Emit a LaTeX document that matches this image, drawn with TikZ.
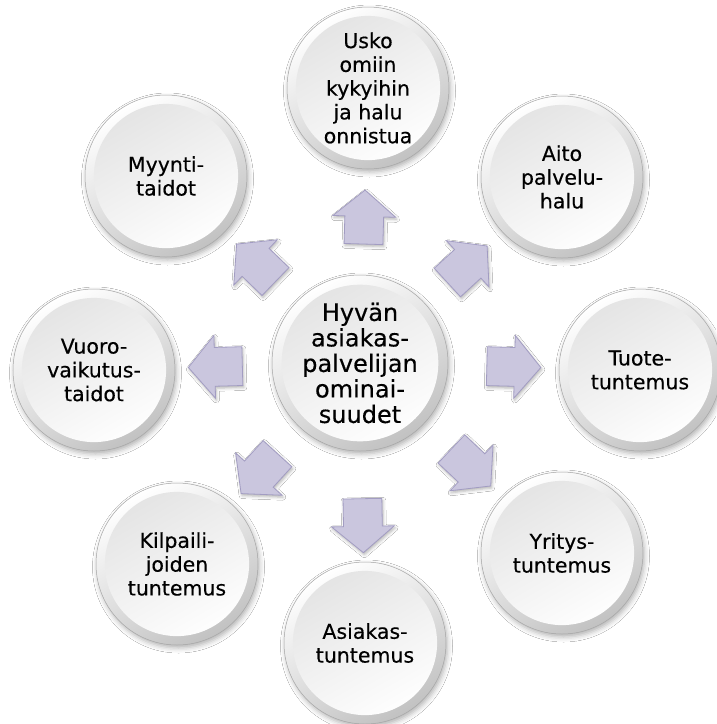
\documentclass[tikz,border=0pt]{standalone}
\usepackage{fontspec}
\setmainfont{DejaVu Sans}[FakeBold=0.35]
\usetikzlibrary{shapes.arrows,shadows.blur}
\definecolor{arrfill}{HTML}{CAC6DE}
\definecolor{arrdraw}{HTML}{A29CC2}
\tikzset{
  btn/.style={circle, minimum size=#1, inner sep=0pt, align=center, text=black,
    top color=white, bottom color=black!24, shading angle=30,
    draw=black!35, line width=0.5pt,
    blur shadow={shadow xshift=1.5pt, shadow yshift=-3pt, shadow blur radius=5pt, shadow opacity=30},
    path picture={\shade[top color=black!11, bottom color=white, shading angle=30]
      (path picture bounding box.center) circle[radius=0.445*#1];}},
  bigtxt/.style={font=\fontsize{24}{25.5}\selectfont},
  smalltxt/.style={font=\fontsize{20.5}{23.8}\selectfont},
  arr/.style={single arrow, single arrow head extend=12pt, single arrow tip angle=100,
    single arrow head indent=0pt, minimum height=54pt, minimum width=62pt,
    inner xsep=0pt, inner ysep=19pt,
    fill=arrfill, draw=arrdraw, line width=0.8pt,
    blur shadow={shadow xshift=1pt, shadow yshift=-2pt, shadow blur radius=3pt, shadow opacity=30}}
}
\begin{document}
\begin{tikzpicture}[x=1pt,y=-1pt]
\fill[white] (0,0) rectangle (716,724);
\useasboundingbox (0,0) rectangle (716,724);
\node[btn=176pt, bigtxt] (c) at (360,363) {Hyvän\\asiakas-\\palvelijan\\ominai-\\suudet};
\node[btn=162pt, smalltxt] (t)  at (368,88)  {Usko\\omiin\\kykyihin\\ja halu\\onnistua};
\node[btn=162pt, smalltxt] (tr) at (562,177) {Aito\\palvelu-\\halu};
\node[btn=162pt, smalltxt] (r)  at (640,370) {Tuote-\\tuntemus};
\node[btn=162pt, smalltxt] (br) at (562,553) {Yritys-\\tuntemus};
\node[btn=162pt, smalltxt] (b)  at (365,643) {Asiakas-\\tuntemus};
\node[btn=162pt, smalltxt] (bl) at (177,564) {Kilpaili-\\joiden\\tuntemus};
\node[btn=162pt, smalltxt] (l)  at (94,370)  {Vuoro-\\vaikutus-\\taidot};
\node[btn=162pt, smalltxt] (tl) at (166,176) {Myynti-\\taidot};
\foreach \o/\p in {t/0.47,tr/0.47,r/0.52,br/0.52,b/0.6,bl/0.52,l/0.5,tl/0.48}
  \path (c) -- node[arr, sloped, allow upside down, pos=\p] {} (\o);
\end{tikzpicture}
\end{document}
